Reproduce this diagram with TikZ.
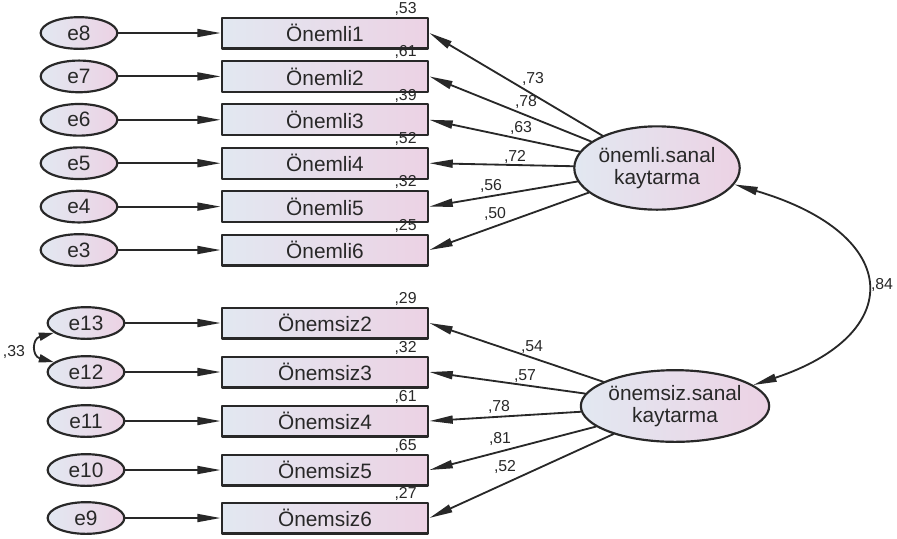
\documentclass[tikz,border=0pt]{standalone}
\usepackage{fontspec}
\setmainfont{Liberation Sans}
\usetikzlibrary{arrows.meta,shapes.geometric}
\definecolor{fillL}{RGB}{226,232,241}
\definecolor{fillR}{RGB}{236,210,228}
\definecolor{ink}{RGB}{40,40,40}
\begin{document}
\begin{tikzpicture}[x=0.6pt, y=-0.6pt, line cap=round, line join=round, >={Triangle[length=14pt,width=4.8pt]}, font=\fontsize{12.5}{14}\selectfont]
			\tikzset{obs/.style={draw=ink, line width=1.3pt, left color=fillL, right color=fillR, minimum width=124pt, minimum height=18.5pt, inner sep=0pt, text=ink},
				err/.style={ellipse, draw=ink, line width=1.3pt, left color=fillL, right color=fillR, minimum width=46pt, minimum height=19pt, inner sep=0pt, text=ink},
				lat/.style={ellipse, draw=ink, line width=1.3pt, left color=fillL, right color=fillR, inner sep=0pt, align=center, text=ink, font=\fontsize{12.5}{13.5}\selectfont},
				load/.style={->, draw=ink, line width=1.1pt},
				coef/.style={font=\fontsize{9.5}{10}\selectfont, text=ink, inner sep=0.5pt}}
			\useasboundingbox (0,0) rectangle (897,538);
			\node[lat, minimum width=94pt, minimum height=50pt] (lat1) at (657,168) {önemli.sanal\\kaytarma};
			\node[lat, minimum width=98pt, minimum height=43pt] (lat2) at (675,406) {önemsiz.sanal\\kaytarma};
			\foreach \i/\e/\y/\r/\l/\lx/\ly in {1/8/33/53/73/533/79, 2/7/76.4/61/78/526/102, 3/6/119.8/39/63/521/128, 4/5/163.2/52/72/515/157, 5/4/206.6/32/56/491/186, 6/3/250/25/50/495/214}{
				\node[err] (e\e) at (79,\y) {e\e};
				\node[obs] (a\i) at (325,\y) {Önemli\i};
				\node[coef, anchor=south east, xshift=-7pt] (ra\i) at (a\i.north east) {,\r};
				\draw[load] (e\e) -- (a\i);
				\draw[load] (lat1) -- (a\i.east);
				\node[coef] (la\i) at (\lx,\ly) {,\l};
			}
			\foreach \i/\e/\y/\r/\l/\lx/\ly in {2/13/323/29/54/532/347, 3/12/372/32/57/525/376, 4/11/421/61/78/499/407, 5/10/470/65/81/500/439, 6/9/518/27/52/505/467}{
				\node[err] (e\e) at (86,\y) {e\e};
				\node[obs] (b\i) at (325,\y) {Önemsiz\i};
				\node[coef, anchor=south east, xshift=-7pt] (rb\i) at (b\i.north east) {,\r};
				\draw[load] (e\e) -- (b\i);
				\draw[load] (lat2) -- (b\i.east);
				\node[coef] (lb\i) at (\lx,\ly) {,\l};
			}
			\draw[load, <->] (lat1.-12) .. controls (905,235) and (905,335) .. (lat2.15);
			\node[coef] (c84) at (882,285) {,84};
			\draw[load, <->, >={Triangle[length=9pt,width=4.8pt]}] (e13.197) .. controls +(-22,6) and +(-22,-6) .. (e12.163);
			\node[coef] (c33) at (14,352) {,33};
		\end{tikzpicture}
\end{document}
